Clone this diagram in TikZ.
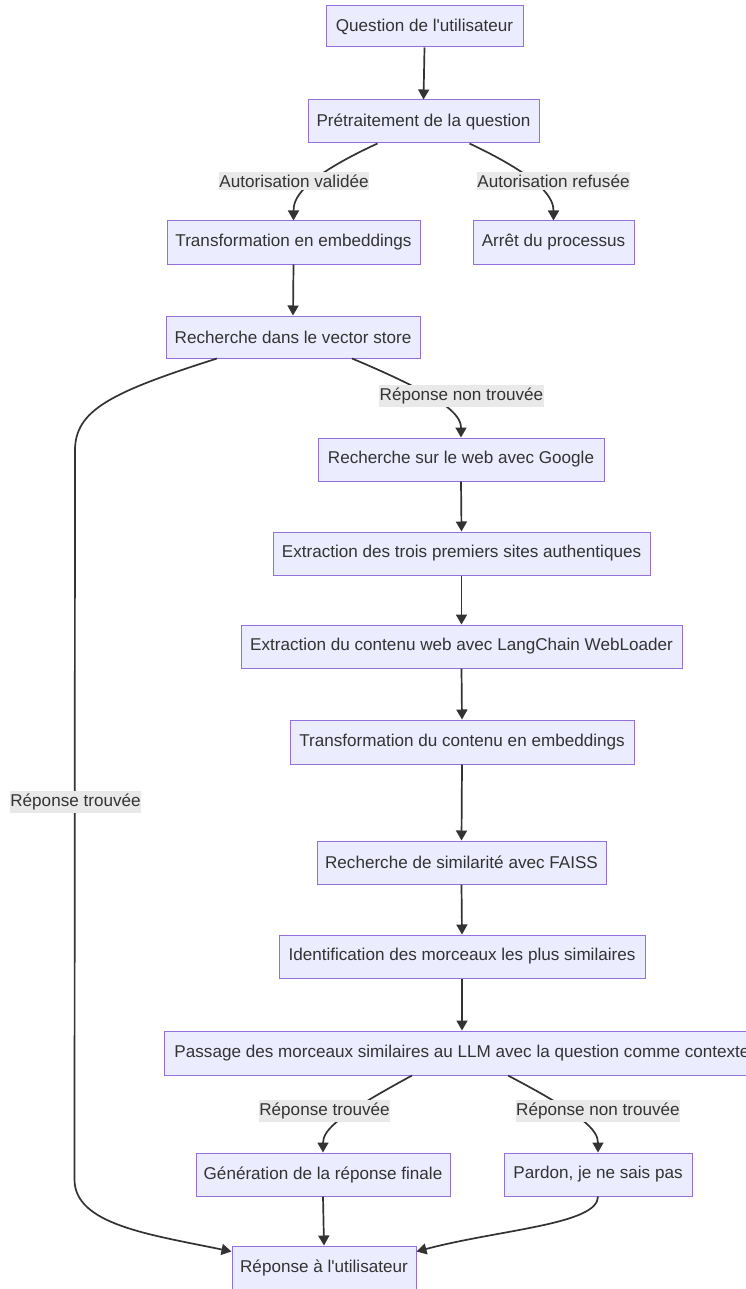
\documentclass[tikz,border=0pt]{standalone}
\usepackage{fontspec}
\setmainfont{Liberation Sans}[Ligatures=TeXOff]
\usetikzlibrary{arrows.meta,calc}
\definecolor{boxfill}{HTML}{ECECFF}
\definecolor{boxline}{HTML}{9370DB}
\definecolor{ink}{HTML}{333333}
\definecolor{tagfill}{HTML}{E9E9E9}
\tikzset{
  stepbox/.style={draw=boxline, fill=boxfill, line width=1pt, text=ink,
    minimum height=43pt, inner sep=0pt, font=\fontsize{17.1}{19}\selectfont},
  edge/.style={draw=ink, line width=1.7pt, -{Triangle[length=10pt,width=11pt]}},
  tag/.style={fill=tagfill, text=ink, inner xsep=0.5pt, inner ysep=3pt,
    font=\fontsize{17.1}{19}\selectfont}
}
\begin{document}
\begin{tikzpicture}[x=1pt,y=-1pt]
\useasboundingbox (0,0) rectangle (746,1289);
\clip (0,0) rectangle (746,1289);

% process steps
\node[stepbox, minimum width=197pt, minimum height=41pt] (n1) at (424.5,26.5) {Question de l'utilisateur};
\node[stepbox, minimum width=231pt] (n2) at (423.5,121.5) {Prétraitement de la question};
\node[stepbox, minimum width=253pt] (n3) at (293.5,242.5) {Transformation en embeddings};
\node[stepbox, minimum width=161pt] (n4) at (553.5,242.5) {Arrêt du processus};
\node[stepbox, minimum width=254pt, minimum height=42pt] (n5) at (293,337) {Recherche dans le vector store};
\node[stepbox, minimum width=286pt] (n6) at (461,459.5) {Recherche sur le web avec Google};
\node[stepbox, minimum width=377pt] (n7) at (461.5,553.5) {Extraction des trois premiers sites authentiques};
\node[stepbox, minimum width=441pt] (n8) at (461.5,646.5) {Extraction du contenu web avec LangChain WebLoader};
\node[stepbox, minimum width=344pt, minimum height=44pt] (n9) at (462,742) {Transformation du contenu en embeddings};
\node[stepbox, minimum width=289pt] (n10) at (461.5,862.5) {Recherche de similarité avec FAISS};
\node[stepbox, minimum width=366pt] (n11) at (462,956.5) {Identification des morceaux les plus similaires};
\node[stepbox, minimum width=596pt, minimum height=44pt] (n12) at (462,1053) {Passage des morceaux similaires au LLM avec la question comme contexte};
\node[stepbox, minimum width=254pt] (n13) at (323,1174.5) {Génération de la réponse finale};
\node[stepbox, minimum width=188pt] (n14) at (598,1174.5) {Pardon, je ne sais pas};
\node[stepbox, minimum width=184pt] (n15) at (324,1267.5) {Réponse à l'utilisateur};

% straight connectors
\draw[edge] (n1.south) -- (n2.north);
\draw[edge] (n3.south) -- (n5.north);
\draw[edge] (n6.south) -- (n7.north);
\draw[edge] (n7.south) -- (n8.north);
\draw[edge] (n8.south) -- (n9.north);
\draw[edge] (n9.south) -- (n10.north);
\draw[edge] (n10.south) -- (n11.north);
\draw[edge] (n11.south) -- (n12.north);
\draw[edge] (n13.south) -- (n15.north);

% branching connectors
\draw[edge] ([xshift=-46pt]n2.south) .. controls ($(n3.north)+(6,-41)$) and ($(n3.north)+(0,-21)$) .. (n3.north);
\draw[edge] ([xshift=46pt]n2.south) .. controls ($(n4.north)+(-8,-41)$) and ($(n4.north)+(0,-21)$) .. (n4.north);
\draw[edge] ([xshift=59pt]n5.south) .. controls ($(n6.north)+(-16,-40)$) and ($(n6.north)+(0,-23)$) .. (n6.north);
\draw[edge] ([xshift=-76pt]n5.south) .. controls ($(n5.south)+(-183,34)$) and ($(n5.south)+(-218,52)$) .. ($(n5.south)+(-218,92)$)
  -- ($(n15.north west)+(-157,-66)$) .. controls ($(n15.north west)+(-157,-21)$) and ($(n15.north west)+(-82,-11)$) .. ($(n15.north west)+(0,6)$);
\draw[edge] ([xshift=-50pt]n12.south) .. controls ($(n13.north)+(17,-38)$) and ($(n13.north)+(0,-23)$) .. (n13.north);
\draw[edge] ([xshift=46pt]n12.south) .. controls ($(n14.north)+(-16,-38)$) and ($(n14.north)+(0,-23)$) .. (n14.north);
\draw[edge] (n14.south) .. controls ($(n14.south)+(0,28)$) and ($(n15.north east)+(83,-16)$) .. ($(n15.north east)+(0,6)$);

% connector labels
\node[tag] (la) at (294,181) {Autorisation validée};
\node[tag] (lb) at (553.5,181) {Autorisation refusée};
\node[tag] (lc) at (461.5,396) {Réponse non trouvée};
\node[tag] (ld) at (75.5,802) {Réponse trouvée};
\node[tag] (le) at (324.5,1111) {Réponse trouvée};
\node[tag] (lf) at (598,1111) {Réponse non trouvée};
\end{tikzpicture}
\end{document}
